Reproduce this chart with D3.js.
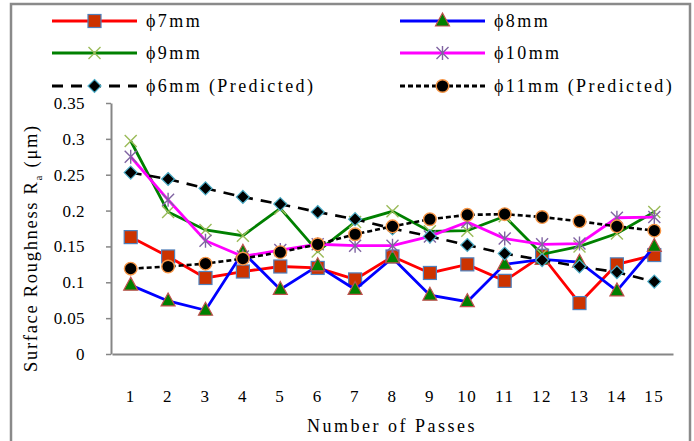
<!DOCTYPE html>
<html><head><meta charset="utf-8">
<script src="https://cdn.jsdelivr.net/npm/d3@7"></script>
<style>body{margin:0;background:#fff}svg{display:block}
text{font-family:"Liberation Serif","DejaVu Serif",serif;}</style>
</head><body>
<svg id="c" width="694" height="441"></svg>
<script>
const passes = [1,2,3,4,5,6,7,8,9,10,11,12,13,14,15];
const yTicks = [0,0.05,0.1,0.15,0.2,0.25,0.3,0.35];
const names = ["\u03d57mm","\u03d58mm","\u03d59mm","\u03d510mm","\u03d56mm (Predicted)","\u03d511mm (Predicted)"];
const phi7  = [0.163,0.136,0.106,0.115,0.122,0.120,0.104,0.136,0.113,0.125,0.102,0.137,0.071,0.125,0.138];
const phi8  = [0.096,0.074,0.061,0.142,0.090,0.123,0.090,0.134,0.082,0.073,0.125,0.132,0.128,0.088,0.150];
const phi9  = [0.297,0.198,0.173,0.165,0.203,0.143,0.184,0.199,0.171,0.172,0.192,0.139,0.150,0.168,0.198];
const phi10 = [0.275,0.215,0.158,0.136,0.145,0.153,0.151,0.151,0.164,0.184,0.161,0.153,0.154,0.190,0.191];
const phi6p = [0.253,0.244,0.231,0.219,0.209,0.198,0.188,0.175,0.164,0.152,0.140,0.131,0.122,0.114,0.101];
const phi11p= [0.119,0.122,0.126,0.133,0.142,0.153,0.167,0.178,0.188,0.194,0.195,0.191,0.185,0.178,0.172];

const series = [
  {name:names[0], v:phi7,  color:"#ff0000", dash:null,  marker:"square"},
  {name:names[1], v:phi8,  color:"#0000ff", dash:null,  marker:"triangle"},
  {name:names[2], v:phi9,  color:"#008000", dash:null,  marker:"x"},
  {name:names[3], v:phi10, color:"#ff00ff", dash:null,  marker:"star"},
  {name:names[4], v:phi6p, color:"#000000", dash:"11,8", marker:"diamond"},
  {name:names[5], v:phi11p,color:"#000000", dash:"5,3", marker:"circle"}
];

const svg = d3.select("#c");
const M = {l:111, r:673, t:103, b:354};
const x = d3.scaleBand().domain(passes).range([M.l+1, M.r]);
const y = d3.scaleLinear().domain([0,0.35]).range([M.b, M.t]);
const cx = d => x(d) + x.bandwidth()/2;

// outer border
svg.append("rect").attr("x",11).attr("y",4).attr("width",679).attr("height",450)
  .attr("fill","none").attr("stroke","#8a8a8a").attr("stroke-width",2.5);

// y axis
const ya = svg.append("g").attr("transform",`translate(${M.l},0)`)
  .call(d3.axisLeft(y).tickValues(yTicks).tickSize(5).tickSizeOuter(0).tickPadding(21).tickFormat(d=>String(+d.toFixed(2))));
ya.attr("font-family",null);
ya.select(".domain").attr("stroke","#868686").attr("stroke-width",2);
ya.selectAll(".tick line").attr("stroke","#868686").attr("stroke-width",1.5);
ya.selectAll("text").attr("font-size",17).attr("letter-spacing",0.4).attr("fill","#000");

// x axis
const xa = svg.append("g").attr("transform",`translate(0,${M.b})`)
  .call(d3.axisBottom(x).tickSize(0).tickPadding(36));
xa.attr("font-family",null);
xa.select(".domain").attr("stroke","#868686").attr("stroke-width",2);
xa.selectAll("text").attr("font-size",17).attr("letter-spacing",1.5).attr("fill","#000");

// axis titles
svg.append("text").attr("x",392).attr("y",432).attr("text-anchor","middle")
  .attr("font-size",18).attr("letter-spacing",2.5).text("Number of Passes");
const yt = svg.append("text").attr("transform","translate(37,248) rotate(-90)").attr("text-anchor","middle")
  .attr("font-size",18.5).attr("letter-spacing",1.7);
yt.append("tspan").text("Surface Roughness R");
yt.append("tspan").attr("font-size",11).attr("dy",5).text("a");
yt.append("tspan").attr("dy",-5).text(" (\u03bcm)");

function drawMarker(g, type, px, py){
  if(type==="square"){
    g.append("rect").attr("x",px-6.5).attr("y",py-6.5).attr("width",13).attr("height",13)
      .attr("fill","#cc3300").attr("stroke","#4f81bd").attr("stroke-width",1.2);
  } else if(type==="triangle"){
    g.append("path").attr("d",`M${px},${py-8}L${px+7},${py+5}L${px-7},${py+5}Z`)
      .attr("fill","#008000").attr("stroke","#c0504d").attr("stroke-width",1.2);
  } else if(type==="x"){
    g.append("path").attr("d",`M${px-6},${py-6}L${px+6},${py+6}M${px-6},${py+6}L${px+6},${py-6}`)
      .attr("stroke","#9bbb59").attr("stroke-width",1.4).attr("fill","none");
  } else if(type==="star"){
    g.append("path").attr("d",`M${px-6},${py-6}L${px+6},${py+6}M${px-6},${py+6}L${px+6},${py-6}M${px},${py-7}L${px},${py+7}`)
      .attr("stroke","#8064a2").attr("stroke-width",1.4).attr("fill","none");
  } else if(type==="diamond"){
    g.append("path").attr("d",`M${px},${py-6.5}L${px+6.5},${py}L${px},${py+6.5}L${px-6.5},${py}Z`)
      .attr("fill","#000").attr("stroke","#4bacc6").attr("stroke-width",1.2);
  } else if(type==="circle"){
    g.append("circle").attr("cx",px).attr("cy",py).attr("r",6.3)
      .attr("fill","#000").attr("stroke","#f79646").attr("stroke-width",1.4);
  }
}

const line = d3.line().x((d,i)=>cx(passes[i])).y(d=>y(d));
series.forEach(s=>{
  const g = svg.append("g");
  g.append("path").datum(s.v).attr("d",line).attr("fill","none")
    .attr("stroke",s.color).attr("stroke-width",s.dash?2.6:2.8)
    .attr("stroke-dasharray",s.dash);
  s.v.forEach((v,i)=>drawMarker(g, s.marker, cx(passes[i]), y(v)));
});

// legend
const legPos = [[52,21],[400,21],[52,53],[400,53],[52,86],[400,86]];
series.forEach((s,i)=>{
  const [lx,ly] = legPos[i];
  const g = svg.append("g");
  g.append("line").attr("x1",lx).attr("x2",lx+85).attr("y1",ly).attr("y2",ly)
    .attr("stroke",s.color).attr("stroke-width",s.dash?3:2.8).attr("stroke-dasharray",s.dash);
  drawMarker(g, s.marker, lx+42.5, ly);
  g.append("text").attr("x",lx+94).attr("y",ly).attr("dy","0.35em")
    .attr("font-size",18).attr("letter-spacing",2.4).text(s.name);
});
</script>
</body></html>
